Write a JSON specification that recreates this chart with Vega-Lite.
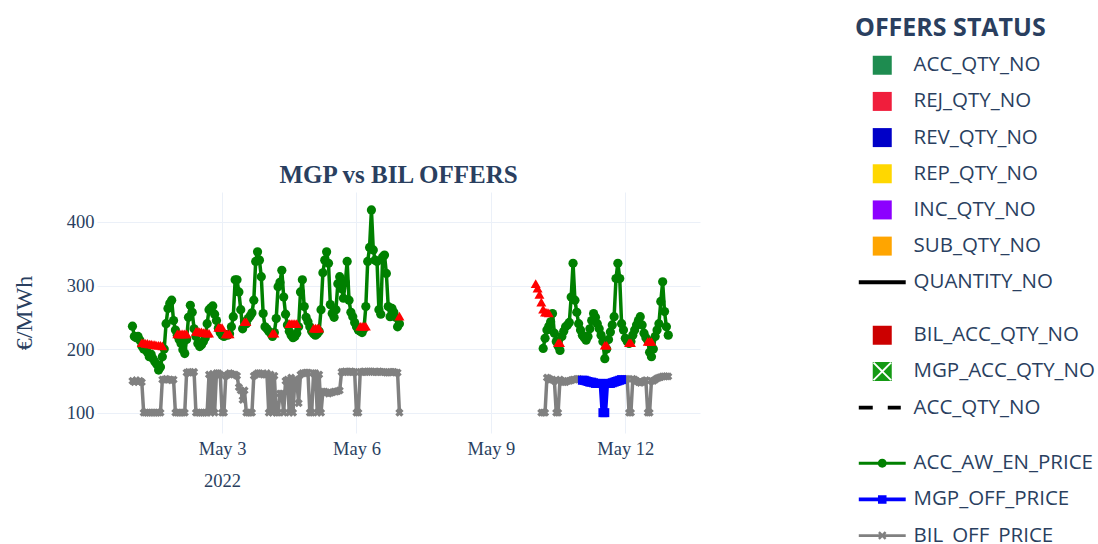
{
"$schema":"https://vega.github.io/schema/vega-lite/v6.json",
"width":603,"height":241,
"autosize":{"type":"none"},
"padding":{"left":97,"top":192,"right":398,"bottom":111},
"background":"white",
"config":{
 "view":{"stroke":null},
 "axis":{"domain":false,"ticks":false,"grid":true,"gridColor":"#EBF0F8","gridWidth":1,"labelFont":"Liberation Serif","labelFontSize":18.5,"labelColor":"#2a3f5f","titleFont":"Liberation Serif","titleColor":"#2a3f5f","titleFontWeight":"normal"},
 "axisX":{"labelPadding":6,"labelLineHeight":32,"labelOverlap":false,"labelFlush":false},
 "axisY":{"labelPadding":3,"titleFontSize":24,"titlePadding":30},
 "legend":{"labelFont":"Open Sans","labelFontSize":20.5,"labelColor":"#2a3f5f","labelLimit":400,"titleLimit":400,"titleFont":"Open Sans","titleFontSize":25,"titleColor":"#2a3f5f","titleFontWeight":"bold","symbolSize":361,"symbolStrokeWidth":0,"rowPadding":15.17,"symbolOffset":17,"labelOffset":21,"padding":0}
},
"title":{"text":"MGP vs BIL OFFERS","font":"Liberation Serif","fontSize":25,"fontWeight":"bold","color":"#2a3f5f","anchor":"middle","frame":"group","baseline":"alphabetic","offset":10,"dy":202},
"data":{"values":[
{"t":"2022-05-01T00:00Z","s":1,"acc":236,"bil":150},
{"t":"2022-05-01T01:00Z","s":1,"acc":220,"bil":148},
{"t":"2022-05-01T02:00Z","s":1,"acc":218,"bil":151},
{"t":"2022-05-01T03:00Z","s":1,"acc":220,"bil":149},
{"t":"2022-05-01T04:00Z","s":1,"acc":214,"bil":150},
{"t":"2022-05-01T05:00Z","s":1,"acc":205,"bil":148,"rej":210},
{"t":"2022-05-01T06:00Z","s":1,"acc":200,"bil":100,"rej":210},
{"t":"2022-05-01T07:00Z","s":1,"acc":199,"bil":100,"rej":209},
{"t":"2022-05-01T08:00Z","s":1,"acc":195,"bil":100,"rej":209},
{"t":"2022-05-01T09:00Z","s":1,"acc":188,"bil":100,"rej":208},
{"t":"2022-05-01T10:00Z","s":1,"acc":192,"bil":100,"rej":208},
{"t":"2022-05-01T11:00Z","s":1,"acc":185,"bil":100,"rej":207},
{"t":"2022-05-01T12:00Z","s":1,"acc":180,"bil":100,"rej":207},
{"t":"2022-05-01T13:00Z","s":1,"acc":176,"bil":100,"rej":206},
{"t":"2022-05-01T14:00Z","s":1,"acc":167,"bil":100,"rej":206},
{"t":"2022-05-01T15:00Z","s":1,"acc":172,"bil":100,"rej":206},
{"t":"2022-05-01T16:00Z","s":1,"acc":188,"bil":152,"rej":205},
{"t":"2022-05-01T17:00Z","s":1,"acc":200,"bil":152},
{"t":"2022-05-01T18:00Z","s":1,"acc":240,"bil":153},
{"t":"2022-05-01T19:00Z","s":1,"acc":264,"bil":152},
{"t":"2022-05-01T20:00Z","s":1,"acc":272,"bil":152},
{"t":"2022-05-01T21:00Z","s":1,"acc":277,"bil":151},
{"t":"2022-05-01T22:00Z","s":1,"acc":245,"bil":152},
{"t":"2022-05-01T23:00Z","s":1,"acc":230,"bil":100},
{"t":"2022-05-02T00:00Z","s":1,"acc":222,"bil":100,"rej":224},
{"t":"2022-05-02T01:00Z","s":1,"acc":215,"bil":100,"rej":224},
{"t":"2022-05-02T02:00Z","s":1,"acc":209,"bil":100,"rej":224},
{"t":"2022-05-02T03:00Z","s":1,"acc":199,"bil":100,"rej":224},
{"t":"2022-05-02T04:00Z","s":1,"acc":193,"bil":100,"rej":224},
{"t":"2022-05-02T05:00Z","s":1,"acc":215,"bil":163,"rej":224},
{"t":"2022-05-02T06:00Z","s":1,"acc":250,"bil":164},
{"t":"2022-05-02T07:00Z","s":1,"acc":269,"bil":163},
{"t":"2022-05-02T08:00Z","s":1,"acc":258,"bil":163},
{"t":"2022-05-02T09:00Z","s":1,"acc":232,"bil":164},
{"t":"2022-05-02T10:00Z","s":1,"acc":220,"bil":100,"rej":228},
{"t":"2022-05-02T11:00Z","s":1,"acc":209,"bil":100,"rej":228},
{"t":"2022-05-02T12:00Z","s":1,"acc":204,"bil":100,"rej":227},
{"t":"2022-05-02T13:00Z","s":1,"acc":207,"bil":100,"rej":227},
{"t":"2022-05-02T14:00Z","s":1,"acc":212,"bil":100,"rej":226},
{"t":"2022-05-02T15:00Z","s":1,"acc":218,"bil":100,"rej":226},
{"t":"2022-05-02T16:00Z","s":1,"acc":240,"bil":100,"rej":225},
{"t":"2022-05-02T17:00Z","s":1,"acc":262,"bil":160,"rej":225},
{"t":"2022-05-02T18:00Z","s":1,"acc":265,"bil":100},
{"t":"2022-05-02T19:00Z","s":1,"acc":268,"bil":161},
{"t":"2022-05-02T20:00Z","s":1,"acc":255,"bil":100},
{"t":"2022-05-02T21:00Z","s":1,"acc":245,"bil":162},
{"t":"2022-05-02T22:00Z","s":1,"acc":233,"bil":162,"rej":234},
{"t":"2022-05-02T23:00Z","s":1,"acc":226,"bil":160,"rej":234},
{"t":"2022-05-03T00:00Z","s":1,"acc":222,"bil":100,"rej":234},
{"t":"2022-05-03T01:00Z","s":1,"acc":220,"bil":100},
{"t":"2022-05-03T02:00Z","s":1,"acc":223,"bil":158,"rej":224},
{"t":"2022-05-03T03:00Z","s":1,"acc":222,"bil":160,"rej":224},
{"t":"2022-05-03T04:00Z","s":1,"acc":224,"bil":162,"rej":224},
{"t":"2022-05-03T05:00Z","s":1,"acc":235,"bil":161},
{"t":"2022-05-03T06:00Z","s":1,"acc":251,"bil":160},
{"t":"2022-05-03T07:00Z","s":1,"acc":309,"bil":160},
{"t":"2022-05-03T08:00Z","s":1,"acc":309,"bil":158},
{"t":"2022-05-03T09:00Z","s":1,"acc":290,"bil":140},
{"t":"2022-05-03T10:00Z","s":1,"acc":262,"bil":135},
{"t":"2022-05-03T11:00Z","s":1,"acc":232,"bil":120},
{"t":"2022-05-03T12:00Z","s":1,"acc":243,"bil":135,"rej":243},
{"t":"2022-05-03T13:00Z","s":1,"acc":240,"bil":100,"rej":243},
{"t":"2022-05-03T14:00Z","s":1,"acc":248,"bil":100},
{"t":"2022-05-03T15:00Z","s":1,"acc":252,"bil":100},
{"t":"2022-05-03T16:00Z","s":1,"acc":257,"bil":100},
{"t":"2022-05-03T17:00Z","s":1,"acc":277,"bil":158},
{"t":"2022-05-03T18:00Z","s":1,"acc":338,"bil":160},
{"t":"2022-05-03T19:00Z","s":1,"acc":353,"bil":162},
{"t":"2022-05-03T20:00Z","s":1,"acc":340,"bil":162},
{"t":"2022-05-03T21:00Z","s":1,"acc":314,"bil":161},
{"t":"2022-05-03T22:00Z","s":1,"acc":256,"bil":160},
{"t":"2022-05-03T23:00Z","s":1,"acc":235,"bil":160},
{"t":"2022-05-04T00:00Z","s":1,"acc":232,"bil":162},
{"t":"2022-05-04T01:00Z","s":1,"acc":228,"bil":100},
{"t":"2022-05-04T02:00Z","s":1,"acc":225,"bil":160},
{"t":"2022-05-04T03:00Z","s":1,"acc":220,"bil":100,"rej":225},
{"t":"2022-05-04T04:00Z","s":1,"acc":226,"bil":158,"rej":225},
{"t":"2022-05-04T05:00Z","s":1,"acc":248,"bil":100},
{"t":"2022-05-04T06:00Z","s":1,"acc":298,"bil":100},
{"t":"2022-05-04T07:00Z","s":1,"acc":305,"bil":130},
{"t":"2022-05-04T08:00Z","s":1,"acc":324,"bil":130},
{"t":"2022-05-04T09:00Z","s":1,"acc":282,"bil":100},
{"t":"2022-05-04T10:00Z","s":1,"acc":255,"bil":150},
{"t":"2022-05-04T11:00Z","s":1,"acc":238,"bil":152},
{"t":"2022-05-04T12:00Z","s":1,"acc":228,"bil":100,"rej":240},
{"t":"2022-05-04T13:00Z","s":1,"acc":222,"bil":155,"rej":240},
{"t":"2022-05-04T14:00Z","s":1,"acc":218,"bil":100,"rej":240},
{"t":"2022-05-04T15:00Z","s":1,"acc":220,"bil":152,"rej":240},
{"t":"2022-05-04T16:00Z","s":1,"acc":225,"bil":151,"rej":240},
{"t":"2022-05-04T17:00Z","s":1,"acc":235,"bil":115},
{"t":"2022-05-04T18:00Z","s":1,"acc":290,"bil":160},
{"t":"2022-05-04T19:00Z","s":1,"acc":309,"bil":162},
{"t":"2022-05-04T20:00Z","s":1,"acc":267,"bil":162},
{"t":"2022-05-04T21:00Z","s":1,"acc":250,"bil":163},
{"t":"2022-05-04T22:00Z","s":1,"acc":243,"bil":163},
{"t":"2022-05-04T23:00Z","s":1,"acc":235,"bil":100},
{"t":"2022-05-05T00:00Z","s":1,"acc":228,"bil":100},
{"t":"2022-05-05T01:00Z","s":1,"acc":224,"bil":162,"rej":233},
{"t":"2022-05-05T02:00Z","s":1,"acc":222,"bil":162,"rej":233},
{"t":"2022-05-05T03:00Z","s":1,"acc":224,"bil":100,"rej":233},
{"t":"2022-05-05T04:00Z","s":1,"acc":228,"bil":160,"rej":233},
{"t":"2022-05-05T05:00Z","s":1,"acc":262,"bil":100},
{"t":"2022-05-05T06:00Z","s":1,"acc":320,"bil":133},
{"t":"2022-05-05T07:00Z","s":1,"acc":340,"bil":133},
{"t":"2022-05-05T08:00Z","s":1,"acc":353,"bil":132},
{"t":"2022-05-05T09:00Z","s":1,"acc":335,"bil":130},
{"t":"2022-05-05T10:00Z","s":1,"acc":270,"bil":131},
{"t":"2022-05-05T11:00Z","s":1,"acc":256,"bil":132},
{"t":"2022-05-05T12:00Z","s":1,"acc":250,"bil":133},
{"t":"2022-05-05T13:00Z","s":1,"acc":262,"bil":133},
{"t":"2022-05-05T14:00Z","s":1,"acc":303,"bil":134},
{"t":"2022-05-05T15:00Z","s":1,"acc":314,"bil":135},
{"t":"2022-05-05T16:00Z","s":1,"acc":295,"bil":164},
{"t":"2022-05-05T17:00Z","s":1,"acc":280,"bil":164},
{"t":"2022-05-05T18:00Z","s":1,"acc":305,"bil":165},
{"t":"2022-05-05T19:00Z","s":1,"acc":338,"bil":164},
{"t":"2022-05-05T20:00Z","s":1,"acc":277,"bil":164},
{"t":"2022-05-05T21:00Z","s":1,"acc":258,"bil":165},
{"t":"2022-05-05T22:00Z","s":1,"acc":251,"bil":164},
{"t":"2022-05-05T23:00Z","s":1,"acc":242,"bil":164},
{"t":"2022-05-06T00:00Z","s":1,"acc":235,"bil":100},
{"t":"2022-05-06T01:00Z","s":1,"acc":230,"bil":100},
{"t":"2022-05-06T02:00Z","s":1,"acc":228,"bil":164,"rej":236},
{"t":"2022-05-06T03:00Z","s":1,"acc":226,"bil":164,"rej":236},
{"t":"2022-05-06T04:00Z","s":1,"acc":232,"bil":165,"rej":236},
{"t":"2022-05-06T05:00Z","s":1,"acc":267,"bil":164,"rej":236},
{"t":"2022-05-06T06:00Z","s":1,"acc":338,"bil":164},
{"t":"2022-05-06T07:00Z","s":1,"acc":360,"bil":165},
{"t":"2022-05-06T08:00Z","s":1,"acc":419,"bil":165},
{"t":"2022-05-06T09:00Z","s":1,"acc":356,"bil":164},
{"t":"2022-05-06T10:00Z","s":1,"acc":340,"bil":164},
{"t":"2022-05-06T11:00Z","s":1,"acc":338,"bil":164},
{"t":"2022-05-06T12:00Z","s":1,"acc":262,"bil":165},
{"t":"2022-05-06T13:00Z","s":1,"acc":255,"bil":164},
{"t":"2022-05-06T14:00Z","s":1,"acc":345,"bil":164},
{"t":"2022-05-06T15:00Z","s":1,"acc":348,"bil":164},
{"t":"2022-05-06T16:00Z","s":1,"acc":319,"bil":163},
{"t":"2022-05-06T17:00Z","s":1,"acc":267,"bil":163},
{"t":"2022-05-06T18:00Z","s":1,"acc":251,"bil":164},
{"t":"2022-05-06T19:00Z","s":1,"acc":264,"bil":164},
{"t":"2022-05-06T20:00Z","s":1,"acc":258,"bil":164},
{"t":"2022-05-06T21:00Z","s":1,"acc":250,"bil":163},
{"t":"2022-05-06T22:00Z","s":1,"acc":235,"bil":163},
{"t":"2022-05-06T23:00Z","s":1,"acc":240,"bil":100,"rej":252},
{"t":"2022-05-10T00:00Z","s":2,"rej":303},
{"t":"2022-05-10T01:00Z","s":2,"rej":296},
{"t":"2022-05-10T02:00Z","s":2,"rej":286},
{"t":"2022-05-10T03:00Z","s":2,"bil":100,"rej":274},
{"t":"2022-05-10T04:00Z","s":2,"acc":201,"bil":100,"rej":263},
{"t":"2022-05-10T05:00Z","s":2,"acc":217,"bil":100,"rej":258},
{"t":"2022-05-10T06:00Z","s":2,"acc":230,"bil":155,"rej":258},
{"t":"2022-05-10T07:00Z","s":2,"acc":236,"bil":154,"rej":257},
{"t":"2022-05-10T08:00Z","s":2,"acc":243,"bil":152},
{"t":"2022-05-10T09:00Z","s":2,"acc":256,"bil":152},
{"t":"2022-05-10T10:00Z","s":2,"acc":225,"bil":150},
{"t":"2022-05-10T11:00Z","s":2,"acc":212,"bil":100},
{"t":"2022-05-10T12:00Z","s":2,"acc":205,"bil":100,"rej":210},
{"t":"2022-05-10T13:00Z","s":2,"acc":198,"bil":152,"rej":210},
{"t":"2022-05-10T14:00Z","s":2,"acc":220,"bil":150},
{"t":"2022-05-10T15:00Z","s":2,"acc":228,"bil":148},
{"t":"2022-05-10T16:00Z","s":2,"acc":235,"bil":148},
{"t":"2022-05-10T17:00Z","s":2,"acc":238,"bil":150},
{"t":"2022-05-10T18:00Z","s":2,"acc":242,"bil":150},
{"t":"2022-05-10T19:00Z","s":2,"acc":282,"bil":151},
{"t":"2022-05-10T20:00Z","s":2,"acc":335,"bil":152},
{"t":"2022-05-10T21:00Z","s":2,"acc":277,"bil":152},
{"t":"2022-05-10T22:00Z","s":2,"acc":258,"bil":153},
{"t":"2022-05-10T23:00Z","s":2,"acc":240,"bil":153},
{"t":"2022-05-11T00:00Z","s":2,"acc":230,"bil":152},
{"t":"2022-05-11T01:00Z","s":2,"acc":222,"bil":151,"mgp":151},
{"t":"2022-05-11T02:00Z","s":2,"acc":218,"bil":151,"mgp":151},
{"t":"2022-05-11T03:00Z","s":2,"acc":214,"bil":150,"mgp":150},
{"t":"2022-05-11T04:00Z","s":2,"acc":220,"bil":149,"mgp":149},
{"t":"2022-05-11T05:00Z","s":2,"acc":232,"bil":148,"mgp":148},
{"t":"2022-05-11T06:00Z","s":2,"acc":245,"bil":148,"mgp":148},
{"t":"2022-05-11T07:00Z","s":2,"acc":256,"bil":147,"mgp":147},
{"t":"2022-05-11T08:00Z","s":2,"acc":250,"bil":146,"mgp":146},
{"t":"2022-05-11T09:00Z","s":2,"acc":240,"bil":146,"mgp":146},
{"t":"2022-05-11T10:00Z","s":2,"acc":232,"bil":146,"mgp":146},
{"t":"2022-05-11T11:00Z","s":2,"acc":222,"bil":146,"mgp":146},
{"t":"2022-05-11T12:00Z","s":2,"acc":212,"bil":100,"mgp":100},
{"t":"2022-05-11T13:00Z","s":2,"acc":185,"bil":100,"mgp":100,"rej":206},
{"t":"2022-05-11T14:00Z","s":2,"acc":200,"bil":146,"mgp":146,"rej":206},
{"t":"2022-05-11T15:00Z","s":2,"acc":215,"bil":146,"mgp":146},
{"t":"2022-05-11T16:00Z","s":2,"acc":227,"bil":146,"mgp":146},
{"t":"2022-05-11T17:00Z","s":2,"acc":238,"bil":147,"mgp":147},
{"t":"2022-05-11T18:00Z","s":2,"acc":251,"bil":148,"mgp":148},
{"t":"2022-05-11T19:00Z","s":2,"acc":311,"bil":149,"mgp":149},
{"t":"2022-05-11T20:00Z","s":2,"acc":335,"bil":150,"mgp":150},
{"t":"2022-05-11T21:00Z","s":2,"acc":311,"bil":151,"mgp":151},
{"t":"2022-05-11T22:00Z","s":2,"acc":240,"bil":152,"mgp":152},
{"t":"2022-05-11T23:00Z","s":2,"acc":230,"bil":153},
{"t":"2022-05-12T00:00Z","s":2,"acc":217,"bil":153},
{"t":"2022-05-12T01:00Z","s":2,"acc":212,"bil":153},
{"t":"2022-05-12T02:00Z","s":2,"acc":209,"bil":100,"rej":210},
{"t":"2022-05-12T03:00Z","s":2,"acc":212,"bil":100,"rej":210},
{"t":"2022-05-12T04:00Z","s":2,"acc":222,"bil":153},
{"t":"2022-05-12T05:00Z","s":2,"acc":230,"bil":152},
{"t":"2022-05-12T06:00Z","s":2,"acc":238,"bil":150},
{"t":"2022-05-12T07:00Z","s":2,"acc":245,"bil":148},
{"t":"2022-05-12T08:00Z","s":2,"acc":251,"bil":147},
{"t":"2022-05-12T09:00Z","s":2,"acc":238,"bil":148},
{"t":"2022-05-12T10:00Z","s":2,"acc":225,"bil":150},
{"t":"2022-05-12T11:00Z","s":2,"acc":218,"bil":151},
{"t":"2022-05-12T12:00Z","s":2,"acc":214,"bil":100,"rej":212},
{"t":"2022-05-12T13:00Z","s":2,"acc":195,"bil":100,"rej":212},
{"t":"2022-05-12T14:00Z","s":2,"acc":188,"bil":150,"rej":212},
{"t":"2022-05-12T15:00Z","s":2,"acc":200,"bil":150},
{"t":"2022-05-12T16:00Z","s":2,"acc":220,"bil":152},
{"t":"2022-05-12T17:00Z","s":2,"acc":230,"bil":154},
{"t":"2022-05-12T18:00Z","s":2,"acc":240,"bil":155},
{"t":"2022-05-12T19:00Z","s":2,"acc":275,"bil":156},
{"t":"2022-05-12T20:00Z","s":2,"acc":306,"bil":157},
{"t":"2022-05-12T21:00Z","s":2,"acc":259,"bil":157},
{"t":"2022-05-12T22:00Z","s":2,"acc":235,"bil":157},
{"t":"2022-05-12T23:00Z","s":2,"acc":222,"bil":157}
]},
"encoding":{
 "x":{"field":"t","type":"temporal","title":null,
  "scale":{"type":"utc","domain":[{"year":2022,"month":4,"date":30,"hours":5,"utc":true},{"year":2022,"month":5,"date":13,"hours":16,"utc":true}]},
  "axis":{"values":[{"year":2022,"month":5,"date":3,"utc":true},{"year":2022,"month":5,"date":6,"utc":true},{"year":2022,"month":5,"date":9,"utc":true},{"year":2022,"month":5,"date":12,"utc":true}],
   "labelExpr":"utcdate(datum.value) == 3 ? ['May 3', '2022'] : 'May ' + utcdate(datum.value)"}}
},
"resolve":{"scale":{"fill":"independent","shape":"independent"}},
"layer":[
 {"data":{"values":[{"status":"ACC_QTY_NO"},{"status":"REJ_QTY_NO"},{"status":"REV_QTY_NO"},{"status":"REP_QTY_NO"},{"status":"INC_QTY_NO"},{"status":"SUB_QTY_NO"},{"status":"QUANTITY_NO"}]},
  "mark":{"type":"point","filled":true,"opacity":1},
  "encoding":{
   "y":{"field":"qty","type":"quantitative","title":"€/MWh","scale":{"domain":[68,447.2],"nice":false,"zero":false},"axis":{"values":[100,200,300,400]}},
   "fill":{"field":"status","type":"nominal",
    "scale":{"domain":["ACC_QTY_NO","REJ_QTY_NO","REV_QTY_NO","REP_QTY_NO","INC_QTY_NO","SUB_QTY_NO","QUANTITY_NO"],"range":["#1e8c50","#f01e3c","#0000c8","#ffd700","#8c00ff","#ffa500","#000000"]},
    "legend":{"title":"OFFERS STATUS","orient":"none","legendX":758,"legendY":-176,"titlePadding":14}},
   "shape":{"field":"status","type":"nominal",
    "scale":{"domain":["ACC_QTY_NO","REJ_QTY_NO","REV_QTY_NO","REP_QTY_NO","INC_QTY_NO","SUB_QTY_NO","QUANTITY_NO"],"range":["M-1,-1H1V1H-1Z","M-1,-1H1V1H-1Z","M-1,-1H1V1H-1Z","M-1,-1H1V1H-1Z","M-1,-1H1V1H-1Z","M-1,-1H1V1H-1Z","M-2.47,-0.2H2.47V0.2H-2.47Z"]},
    "legend":{"title":"OFFERS STATUS","orient":"none","legendX":758,"legendY":-176,"titlePadding":14}}
  }},
 {"data":{"values":[{"status2":"BIL_ACC_QTY_NO"},{"status2":"MGP_ACC_QTY_NO"},{"status2":"ACC_QTY_NO"}]},
  "mark":{"type":"point","filled":true,"opacity":1},
  "encoding":{
   "y":{"field":"qty","type":"quantitative","title":"€/MWh","scale":{"domain":[68,447.2],"nice":false,"zero":false}},
   "fill":{"field":"status2","type":"nominal",
    "scale":{"domain":["BIL_ACC_QTY_NO","MGP_ACC_QTY_NO","ACC_QTY_NO"],"range":["#cc0000","#149a14","#000000"]},
    "legend":{"title":null,"orient":"none","legendX":758,"legendY":133}},
   "shape":{"field":"status2","type":"nominal",
    "scale":{"domain":["BIL_ACC_QTY_NO","MGP_ACC_QTY_NO","ACC_QTY_NO"],"range":["M-1,-1H1V1H-1Z","M-1,-1H1V1H-1ZM-0.99,-0.849L-0.141,0L-0.99,0.849L-0.849,0.99L0,0.141L0.849,0.99L0.99,0.849L0.141,0L0.99,-0.849L0.849,-0.99L0,-0.141L-0.849,-0.99Z","M-2.47,-0.2H-1V0.2H-2.47ZM0.58,-0.2H1.95V0.2H0.58Z"]},
    "legend":{"title":null,"orient":"none","legendX":758,"legendY":133}}
  }},
 {"data":{"values":[{"series":"ACC_AW_EN_PRICE"},{"series":"MGP_OFF_PRICE"},{"series":"BIL_OFF_PRICE"}]},
  "mark":{"type":"point","filled":true,"opacity":1},
  "encoding":{
   "y":{"field":"qty","type":"quantitative","title":"€/MWh","scale":{"domain":[68,447.2],"nice":false,"zero":false}},
   "fill":{"field":"series","type":"nominal",
    "scale":{"domain":["ACC_AW_EN_PRICE","MGP_OFF_PRICE","BIL_OFF_PRICE"],"range":["#008000","#0000ff","#808080"]},
    "legend":{"title":null,"orient":"none","legendX":758,"legendY":261}},
   "shape":{"field":"series","type":"nominal",
    "scale":{"domain":["ACC_AW_EN_PRICE","MGP_OFF_PRICE","BIL_OFF_PRICE"],"range":["M-2.47,-0.17H2.47V0.17H-2.47ZM-0.47,0A0.47,0.47,0,1,1,0.47,0A0.47,0.47,0,1,1,-0.47,0Z","M-2.47,-0.2H2.47V0.2H-2.47ZM-0.45,-0.45H0.45V0.45H-0.45Z","M-2.47,-0.15H2.47V0.15H-2.47ZM-0.262,-0.445L0,-0.184L0.262,-0.445L0.445,-0.262L0.184,0L0.445,0.262L0.262,0.445L0,0.184L-0.262,0.445L-0.445,0.262L-0.184,0L-0.445,-0.262Z"]},
    "legend":{"title":null,"orient":"none","legendX":758,"legendY":261}}
  }},
 {"mark":{"type":"line","strokeWidth":3.5,"strokeJoin":"round"},
  "encoding":{
   "y":{"field":"bil","type":"quantitative","title":"€/MWh","scale":{"domain":[68,447.2],"nice":false,"zero":false}},
   "detail":{"field":"s","type":"nominal"},
   "color":{"datum":"BIL_OFF_PRICE","scale":{"domain":["ACC_AW_EN_PRICE","MGP_OFF_PRICE","BIL_OFF_PRICE"],"range":["#008000","#0000ff","#808080"]},"legend":null}
  }},
 {"mark":{"type":"point","shape":"cross","angle":45,"filled":true,"size":70,"opacity":1},
  "encoding":{
   "y":{"field":"bil","type":"quantitative","title":"€/MWh","scale":{"domain":[68,447.2],"nice":false,"zero":false}},
   "color":{"datum":"BIL_OFF_PRICE","scale":{"domain":["ACC_AW_EN_PRICE","MGP_OFF_PRICE","BIL_OFF_PRICE"],"range":["#008000","#0000ff","#808080"]},"legend":null}
  }},
 {"mark":{"type":"line","strokeWidth":5,"strokeJoin":"round"},
  "encoding":{
   "y":{"field":"mgp","type":"quantitative","title":"€/MWh","scale":{"domain":[68,447.2],"nice":false,"zero":false}},
   "detail":{"field":"s","type":"nominal"},
   "color":{"datum":"MGP_OFF_PRICE","scale":{"domain":["ACC_AW_EN_PRICE","MGP_OFF_PRICE","BIL_OFF_PRICE"],"range":["#008000","#0000ff","#808080"]},"legend":null}
  }},
 {"mark":{"type":"point","shape":"square","filled":true,"size":81,"opacity":1},
  "encoding":{
   "y":{"field":"mgp","type":"quantitative","title":"€/MWh","scale":{"domain":[68,447.2],"nice":false,"zero":false}},
   "color":{"datum":"MGP_OFF_PRICE","scale":{"domain":["ACC_AW_EN_PRICE","MGP_OFF_PRICE","BIL_OFF_PRICE"],"range":["#008000","#0000ff","#808080"]},"legend":null}
  }},
 {"mark":{"type":"line","strokeWidth":3.5,"strokeJoin":"round"},
  "encoding":{
   "y":{"field":"acc","type":"quantitative","title":"€/MWh","scale":{"domain":[68,447.2],"nice":false,"zero":false}},
   "detail":{"field":"s","type":"nominal"},
   "color":{"datum":"ACC_AW_EN_PRICE","scale":{"domain":["ACC_AW_EN_PRICE","MGP_OFF_PRICE","BIL_OFF_PRICE"],"range":["#008000","#0000ff","#808080"]},"legend":null}
  }},
 {"mark":{"type":"point","shape":"circle","filled":true,"size":85,"opacity":1},
  "encoding":{
   "y":{"field":"acc","type":"quantitative","title":"€/MWh","scale":{"domain":[68,447.2],"nice":false,"zero":false}},
   "color":{"datum":"ACC_AW_EN_PRICE","scale":{"domain":["ACC_AW_EN_PRICE","MGP_OFF_PRICE","BIL_OFF_PRICE"],"range":["#008000","#0000ff","#808080"]},"legend":null}
  }},
 {"mark":{"type":"point","shape":"triangle-up","filled":true,"size":100,"opacity":1,"color":"#ff0000"},
  "encoding":{
   "y":{"field":"rej","type":"quantitative","title":"€/MWh","scale":{"domain":[68,447.2],"nice":false,"zero":false}}
  }}
]
}
